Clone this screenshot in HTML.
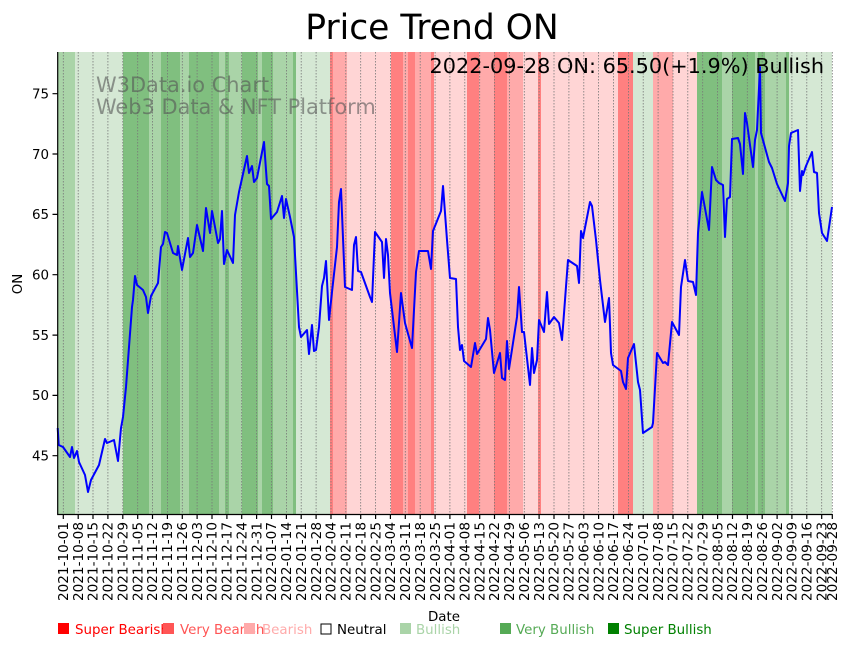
<!DOCTYPE html>
<html><head><meta charset="utf-8"><style>
body{margin:0;background:#fff;width:851px;height:646px;overflow:hidden}
svg{display:block;font-family:"DejaVu Sans","Liberation Sans",sans-serif}
</style></head><body>
<svg width="851" height="646" viewBox="0 0 851 646" xmlns="http://www.w3.org/2000/svg">
<rect width="851" height="646" fill="#fff"/>
<g shape-rendering="crispEdges">
<rect x="57.7" y="52" width="17.3" height="462" fill="#aad4a8"/>
<rect x="75" y="52" width="48" height="462" fill="#d5e8d4"/>
<rect x="123" y="52" width="26" height="462" fill="#80bf7f"/>
<rect x="149" y="52" width="12" height="462" fill="#aad4a8"/>
<rect x="161" y="52" width="19" height="462" fill="#80bf7f"/>
<rect x="180" y="52" width="9" height="462" fill="#aad4a8"/>
<rect x="189" y="52" width="30" height="462" fill="#80bf7f"/>
<rect x="219" y="52" width="23" height="462" fill="#aad4a8"/>
<rect x="225" y="52" width="4" height="462" fill="#80bf7f"/>
<rect x="242" y="52" width="16" height="462" fill="#80bf7f"/>
<rect x="258" y="52" width="4" height="462" fill="#aad4a8"/>
<rect x="262" y="52" width="11" height="462" fill="#80bf7f"/>
<rect x="273" y="52" width="20" height="462" fill="#aad4a8"/>
<rect x="293" y="52" width="3" height="462" fill="#80bf7f"/>
<rect x="296" y="52" width="34" height="462" fill="#d5e8d4"/>
<rect x="330" y="52" width="3" height="462" fill="#ff8080"/>
<rect x="333" y="52" width="14" height="462" fill="#ffaaaa"/>
<rect x="347" y="52" width="44" height="462" fill="#ffd5d5"/>
<rect x="391" y="52" width="12" height="462" fill="#ff8080"/>
<rect x="403" y="52" width="5" height="462" fill="#ffaaaa"/>
<rect x="408" y="52" width="7" height="462" fill="#ff8080"/>
<rect x="415" y="52" width="16" height="462" fill="#ffaaaa"/>
<rect x="431" y="52" width="3" height="462" fill="#ff8080"/>
<rect x="434" y="52" width="33" height="462" fill="#ffd5d5"/>
<rect x="467" y="52" width="12" height="462" fill="#ff8080"/>
<rect x="479" y="52" width="15" height="462" fill="#ffaaaa"/>
<rect x="494" y="52" width="13" height="462" fill="#ff8080"/>
<rect x="507" y="52" width="16" height="462" fill="#ffaaaa"/>
<rect x="523" y="52" width="15" height="462" fill="#ffd5d5"/>
<rect x="538" y="52" width="3" height="462" fill="#ff8080"/>
<rect x="541" y="52" width="77" height="462" fill="#ffd5d5"/>
<rect x="618" y="52" width="15" height="462" fill="#ff8080"/>
<rect x="633" y="52" width="20" height="462" fill="#d5e8d4"/>
<rect x="653" y="52" width="20" height="462" fill="#ffaaaa"/>
<rect x="673" y="52" width="24" height="462" fill="#ffd5d5"/>
<rect x="697" y="52" width="25" height="462" fill="#80bf7f"/>
<rect x="722" y="52" width="10" height="462" fill="#aad4a8"/>
<rect x="732" y="52" width="23" height="462" fill="#80bf7f"/>
<rect x="755" y="52" width="3" height="462" fill="#aad4a8"/>
<rect x="758" y="52" width="7" height="462" fill="#80bf7f"/>
<rect x="765" y="52" width="21" height="462" fill="#aad4a8"/>
<rect x="786" y="52" width="3" height="462" fill="#80bf7f"/>
<rect x="789" y="52" width="43" height="462" fill="#d5e8d4"/>
</g>
<g stroke="#777" stroke-width="0.8" stroke-dasharray="1.5,1.5">
<path d="M63.3 52V514M78.2 52V514M93 52V514M107.9 52V514M122.8 52V514M137.7 52V514M152.5 52V514M167.4 52V514M182.3 52V514M197.1 52V514M212 52V514M226.9 52V514M241.7 52V514M256.6 52V514M271.5 52V514M286.4 52V514M301.2 52V514M316.1 52V514M331 52V514M345.8 52V514M360.7 52V514M375.6 52V514M390.4 52V514M405.3 52V514M420.2 52V514M435.1 52V514M449.9 52V514M464.8 52V514M479.7 52V514M494.5 52V514M509.4 52V514M524.3 52V514M539.1 52V514M554 52V514M568.9 52V514M583.8 52V514M598.6 52V514M613.5 52V514M628.4 52V514M643.2 52V514M658.1 52V514M673 52V514M687.8 52V514M702.7 52V514M717.6 52V514M732.5 52V514M747.3 52V514M762.2 52V514M777.1 52V514M791.9 52V514M806.8 52V514M821.7 52V514M832.3 52V514"/>
</g>
<text x="96" y="92" font-size="20.9" fill="#555" fill-opacity="0.6">W3Data.io Chart</text>
<text x="96" y="114" font-size="20.9" fill="#555" fill-opacity="0.6">Web3 Data &amp; NFT Platform</text>
<polyline fill="none" stroke="#0000ff" stroke-width="2" stroke-linejoin="round" points="57.7,428 58.7,445 63,447 70,457 72,447 74,458 77,451 79,462 85,475 88,492 91,480 99,465 105,439 107,443 114,440 118,461 121,428 123,417 126,387 132,307 133,300 135,276 137,285 143,290 146,297 148,313 151,296 158,283 161,247 163,244 165,232 167,233 173,253 177,255 178,246 182,270 188,238 190,257 193,253 197,225 203,251 206,208 210,233 212,211 218,243 220,239 222,211 224,264 227,250 233,263 235,215 239,192 247,156 249,173 252,166 254,182 257,178 264,142 267,184 269,186 271,219 277,212 282,196 284,218 286,199 290,217 294,237 299,327 301,337 307,330 309,354 312,325 314,351 316,350 319,327 322,286 324,278 326,261 329,320 332,292 337,247 339,202 341,189 345,287 352,290 354,245 356,237 358,271 361,272 370,297 372,302 375,232 382,242 384,278 386,239 388,255 390,293 397,352 401,293 405,323 412,348 416,272 419,251 428,251 431,269 433,231 441,211 443,186 447,240 450,278 456,279 458,327 460,350 462,345 464,361 471,367 475,343 477,354 486,339 488,318 490,330 494,373 500,353 502,378 505,380 507,341 509,369 517,317 519,287 522,332 524,332 530,385 532,348 534,373 537,360 539,320 544,332 547,292 549,324 554,317 559,323 562,340 568,260 577,266 579,283 581,231 583,238 590,202 592,206 596,240 600,280 605,322 609,298 611,353 613,365 621,371 623,382 626,389 628,358 634,344 638,382 640,390 643,433 652,427 653,423 657,353 663,363 665,362 668,365 672,322 679,335 681,287 685,260 688,281 693,282 696,295 698,233 702,192 709,230 712,167 716,180 719,183 723,185 725,237 727,199 730,197 732,139 738,138 740,144 743,174 745,113 747,123 753,167 755,140 757,130 760,67 761,133 769,162 772,168 777,184 785,201 788,183 789,146 791,133 798,130 800,191 802,171 803,175 806,166 812,152 814,172 817,173 819,213 822,233 827,241 832,207"/>
<g stroke="#000" stroke-width="1.2" fill="none">
<path d="M57.7 52V514.5H832.5"/>
<path d="M52.5 93.7H57.7M52.5 154H57.7M52.5 214.4H57.7M52.5 274.7H57.7M52.5 335.1H57.7M52.5 395.4H57.7M52.5 455.7H57.7"/>
<path d="M63.3 514V519M78.2 514V519M93 514V519M107.9 514V519M122.8 514V519M137.7 514V519M152.5 514V519M167.4 514V519M182.3 514V519M197.1 514V519M212 514V519M226.9 514V519M241.7 514V519M256.6 514V519M271.5 514V519M286.4 514V519M301.2 514V519M316.1 514V519M331 514V519M345.8 514V519M360.7 514V519M375.6 514V519M390.4 514V519M405.3 514V519M420.2 514V519M435.1 514V519M449.9 514V519M464.8 514V519M479.7 514V519M494.5 514V519M509.4 514V519M524.3 514V519M539.1 514V519M554 514V519M568.9 514V519M583.8 514V519M598.6 514V519M613.5 514V519M628.4 514V519M643.2 514V519M658.1 514V519M673 514V519M687.8 514V519M702.7 514V519M717.6 514V519M732.5 514V519M747.3 514V519M762.2 514V519M777.1 514V519M791.9 514V519M806.8 514V519M821.7 514V519M832.3 514V519"/>
</g>
<g font-size="13.4" text-anchor="end" fill="#000">
<text x="49" y="98.5">75</text><text x="49" y="158.8">70</text><text x="49" y="219.2">65</text><text x="49" y="279.5">60</text><text x="49" y="339.9">55</text><text x="49" y="400.2">50</text><text x="49" y="460.5">45</text>
</g>
<text transform="translate(22,284) rotate(-90)" font-size="13.4" text-anchor="middle">ON</text>
<g font-size="13.6" text-anchor="end" fill="#000">
<text transform="translate(68,522) rotate(-90)">2021-10-01</text>
<text transform="translate(82.9,522) rotate(-90)">2021-10-08</text>
<text transform="translate(97.7,522) rotate(-90)">2021-10-15</text>
<text transform="translate(112.6,522) rotate(-90)">2021-10-22</text>
<text transform="translate(127.5,522) rotate(-90)">2021-10-29</text>
<text transform="translate(142.4,522) rotate(-90)">2021-11-05</text>
<text transform="translate(157.2,522) rotate(-90)">2021-11-12</text>
<text transform="translate(172.1,522) rotate(-90)">2021-11-19</text>
<text transform="translate(187,522) rotate(-90)">2021-11-26</text>
<text transform="translate(201.8,522) rotate(-90)">2021-12-03</text>
<text transform="translate(216.7,522) rotate(-90)">2021-12-10</text>
<text transform="translate(231.6,522) rotate(-90)">2021-12-17</text>
<text transform="translate(246.4,522) rotate(-90)">2021-12-24</text>
<text transform="translate(261.3,522) rotate(-90)">2021-12-31</text>
<text transform="translate(276.2,522) rotate(-90)">2022-01-07</text>
<text transform="translate(291.1,522) rotate(-90)">2022-01-14</text>
<text transform="translate(305.9,522) rotate(-90)">2022-01-21</text>
<text transform="translate(320.8,522) rotate(-90)">2022-01-28</text>
<text transform="translate(335.7,522) rotate(-90)">2022-02-04</text>
<text transform="translate(350.5,522) rotate(-90)">2022-02-11</text>
<text transform="translate(365.4,522) rotate(-90)">2022-02-18</text>
<text transform="translate(380.3,522) rotate(-90)">2022-02-25</text>
<text transform="translate(395.1,522) rotate(-90)">2022-03-04</text>
<text transform="translate(410,522) rotate(-90)">2022-03-11</text>
<text transform="translate(424.9,522) rotate(-90)">2022-03-18</text>
<text transform="translate(439.8,522) rotate(-90)">2022-03-25</text>
<text transform="translate(454.6,522) rotate(-90)">2022-04-01</text>
<text transform="translate(469.5,522) rotate(-90)">2022-04-08</text>
<text transform="translate(484.4,522) rotate(-90)">2022-04-15</text>
<text transform="translate(499.2,522) rotate(-90)">2022-04-22</text>
<text transform="translate(514.1,522) rotate(-90)">2022-04-29</text>
<text transform="translate(529,522) rotate(-90)">2022-05-06</text>
<text transform="translate(543.8,522) rotate(-90)">2022-05-13</text>
<text transform="translate(558.7,522) rotate(-90)">2022-05-20</text>
<text transform="translate(573.6,522) rotate(-90)">2022-05-27</text>
<text transform="translate(588.5,522) rotate(-90)">2022-06-03</text>
<text transform="translate(603.3,522) rotate(-90)">2022-06-10</text>
<text transform="translate(618.2,522) rotate(-90)">2022-06-17</text>
<text transform="translate(633.1,522) rotate(-90)">2022-06-24</text>
<text transform="translate(647.9,522) rotate(-90)">2022-07-01</text>
<text transform="translate(662.8,522) rotate(-90)">2022-07-08</text>
<text transform="translate(677.7,522) rotate(-90)">2022-07-15</text>
<text transform="translate(692.5,522) rotate(-90)">2022-07-22</text>
<text transform="translate(707.4,522) rotate(-90)">2022-07-29</text>
<text transform="translate(722.3,522) rotate(-90)">2022-08-05</text>
<text transform="translate(737.2,522) rotate(-90)">2022-08-12</text>
<text transform="translate(752,522) rotate(-90)">2022-08-19</text>
<text transform="translate(766.9,522) rotate(-90)">2022-08-26</text>
<text transform="translate(781.8,522) rotate(-90)">2022-09-02</text>
<text transform="translate(796.6,522) rotate(-90)">2022-09-09</text>
<text transform="translate(811.5,522) rotate(-90)">2022-09-16</text>
<text transform="translate(826.4,522) rotate(-90)">2022-09-23</text>
<text transform="translate(837,522) rotate(-90)">2022-09-28</text>
</g>
<text x="444" y="621" font-size="13.4" text-anchor="middle">Date</text>
<text x="432" y="39" font-size="34.5" text-anchor="middle">Price Trend ON</text>
<text x="824" y="73" font-size="20.8" text-anchor="end">2022-09-28 ON: 65.50(+1.9%) Bullish</text>
<g font-size="13.4">
<rect x="58" y="623" width="11" height="11" fill="#ff0000"/><text x="75" y="634" fill="#ff0000">Super Bearish</text>
<rect x="163" y="623" width="11" height="11" fill="#ff5555"/><text x="180" y="634" fill="#ff5555">Very Bearish</text>
<rect x="244" y="623" width="11" height="11" fill="#ffaaaa"/><text x="262" y="634" fill="#ffaaaa">Bearish</text>
<rect x="321" y="624" width="10" height="10" fill="none" stroke="#000" stroke-width="1"/><text x="337" y="634" fill="#000">Neutral</text>
<rect x="400" y="623" width="11" height="11" fill="#aad4a8"/><text x="416" y="634" fill="#aad4a8">Bullish</text>
<rect x="500" y="623" width="11" height="11" fill="#55aa55"/><text x="516" y="634" fill="#55aa55">Very Bullish</text>
<rect x="608" y="623" width="11" height="11" fill="#008000"/><text x="624" y="634" fill="#008000">Super Bullish</text>
</g>
</svg>
</body></html>
